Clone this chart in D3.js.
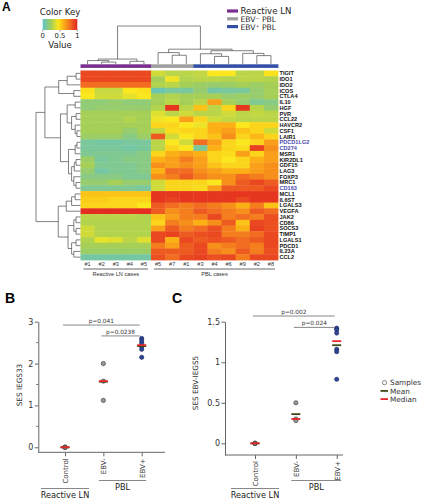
<!DOCTYPE html>
<html><head><meta charset="utf-8">
<script src="https://cdn.jsdelivr.net/npm/d3@7"></script>
<style>body{margin:0;background:#fff}svg{display:block}</style>
</head><body>
<script>
// ---------------- DATA ----------------
const genes = ["TIGIT","IDO1","IDO2","ICOS","CTLA4","IL10","HGF","PVR","CCL22","HAVCR2","CSF1","LAIR1","PDCD1LG2","CD274","MSR1","KIR2DL1","GDF15","LAG3","FOXP3","MRC1","CD163","MCL1","IL6ST","LGALS3","VEGFA","JAK2","CD86","SOCS3","TIMP1","LGALS1","PDCD1","IL23A","CCL2"];
const blueGenes = ["PDCD1LG2","CD274","CD163"];
const sampleLabels = ["#1","#2","#3","#4","#5","#5","#7","#1","#3","#4","#6","#9","#2","#8"];
const sampleGroups = ["Reactive LN","Reactive LN","Reactive LN","Reactive LN","Reactive LN","EBV⁻ PBL","EBV⁻ PBL","EBV⁻ PBL","EBV⁺ PBL","EBV⁺ PBL","EBV⁺ PBL","EBV⁺ PBL","EBV⁺ PBL","EBV⁺ PBL"];
const groupNames = ["Reactive LN","EBV⁻ PBL","EBV⁺ PBL"];
const groupColors = ["#7b2f8e","#9e9e9e","#3450a6"];
const caseGroups = [{label:"Reactive LN cases", first:0, last:4},{label:"PBL cases", first:5, last:13}];
const heatValues = [
 [0.9,0.9,0.9,0.9,0.9, 0.35,0.3,0.3,0.32,0.45,0.45,0.3,0.3,0.47],
 [0.9,0.9,0.9,0.9,0.9, 0.25,0.42,0.28,0.3,0.3,0.28,0.3,0.3,0.28],
 [0.8,0.8,0.8,0.8,0.8, 0.28,0.3,0.25,0.22,0.2,0.22,0.25,0.22,0.25],
 [0.47,0.33,0.33,0.45,0.47, 0.05,0.1,0.1,0.2,0.08,0.1,0.1,0.2,0.25],
 [0.45,0.35,0.35,0.4,0.45, 0.25,0.28,0.25,0.25,0.25,0.2,0.22,0.2,0.25],
 [0.18,0.18,0.2,0.18,0.18, 0.25,0.3,0.25,0.3,0.65,0.25,0.2,0.12,0.15],
 [0.18,0.2,0.2,0.2,0.2, 0.28,0.95,0.3,0.55,0.3,0.5,0.95,0.3,0.2],
 [0.25,0.25,0.25,0.25,0.25, 0.38,0.3,0.35,0.3,0.3,0.35,0.3,0.32,0.3],
 [0.25,0.25,0.25,0.28,0.25, 0.42,0.45,0.65,0.5,0.35,0.32,0.3,0.3,0.3],
 [0.25,0.25,0.25,0.25,0.25, 0.5,0.5,0.45,0.42,0.6,0.6,0.45,0.5,0.5],
 [0.25,0.25,0.25,0.2,0.25, 0.32,0.48,0.5,0.5,0.6,0.65,0.55,0.5,0.35],
 [0.22,0.22,0.22,0.15,0.22, 0.85,0.35,0.45,0.5,0.55,0.7,0.5,0.58,0.5],
 [0.1,0.08,0.08,0.1,0.1, 0.3,0.45,0.35,0.8,0.65,0.5,0.45,0.5,0.65],
 [0.1,0.1,0.1,0.08,0.1, 0.3,0.5,0.45,0.1,0.6,0.5,0.48,0.92,0.7],
 [0.12,0.12,0.12,0.12,0.15, 0.5,0.6,0.65,0.6,0.5,0.48,0.65,0.5,0.65],
 [0.22,0.1,0.12,0.15,0.15, 0.6,0.65,0.75,0.65,0.5,0.45,0.5,0.6,0.65],
 [0.25,0.12,0.12,0.12,0.15, 0.7,0.65,0.7,0.65,0.55,0.5,0.5,0.65,0.7],
 [0.2,0.08,0.12,0.12,0.15, 0.6,0.8,0.8,0.7,0.65,0.6,0.6,0.65,0.7],
 [0.15,0.15,0.15,0.12,0.12, 0.7,0.75,0.85,0.75,0.7,0.7,0.8,0.75,0.7],
 [0.2,0.2,0.25,0.2,0.2, 0.35,0.5,0.5,0.5,0.45,0.7,0.85,0.9,0.85],
 [0.12,0.12,0.12,0.12,0.1, 0.35,0.5,0.5,0.48,0.65,0.85,0.85,0.85,0.9],
 [0.55,0.55,0.55,0.55,0.55, 0.95,0.95,0.95,0.95,0.95,0.95,0.95,0.95,0.95],
 [0.52,0.52,0.5,0.5,0.5, 0.95,0.92,0.95,0.95,0.95,0.95,0.9,0.95,0.95],
 [0.5,0.5,0.5,0.5,0.45, 0.85,0.8,0.75,0.8,0.75,0.7,0.6,0.75,0.55],
 [0.97,0.97,0.97,0.97,0.97, 0.85,0.7,0.75,0.85,0.8,0.75,0.7,0.85,0.8],
 [0.3,0.3,0.3,0.3,0.28, 0.55,0.65,0.75,0.75,0.9,0.75,0.8,0.75,0.88],
 [0.28,0.28,0.28,0.28,0.28, 0.5,0.75,0.7,0.6,0.7,0.85,0.55,0.9,0.88],
 [0.35,0.28,0.28,0.28,0.28, 0.65,0.85,0.75,0.8,0.88,0.75,0.6,0.92,0.88],
 [0.35,0.28,0.28,0.28,0.28, 0.9,0.92,0.85,0.88,0.9,0.75,0.75,0.8,0.9],
 [0.28,0.4,0.38,0.3,0.38, 0.9,0.6,0.9,0.85,0.88,0.85,0.8,0.85,0.9],
 [0.25,0.25,0.25,0.25,0.25, 0.75,0.65,0.85,0.9,0.7,0.75,0.8,0.75,0.9],
 [0.22,0.22,0.22,0.22,0.22, 0.85,0.85,0.85,0.9,0.75,0.7,0.85,0.75,0.88],
 [0.08,0.08,0.08,0.08,0.08, 0.88,0.8,0.9,0.92,0.88,0.9,0.75,0.9,0.9]
];
const colorStops = [0,0.25,0.45,0.6,0.8,1];
const colorRamp = ["#5ec3c8","#a5cf57","#fbe71d","#fbb016","#f26d21","#e2231f"];
const colorKeyTicks = [0,0.5,1];
// dendrograms: {h: merge height, c: children}, leaves = index
const colTree = {h:1,c:[
  {h:0.13,c:[{h:0.09,c:[0,{h:0.05,c:[1,2]}]},{h:0.07,c:[3,4]}]},
  {h:0.39,c:[
    {h:0.3,c:[5,{h:0.23,c:[6,7]}]},
    {h:0.35,c:[{h:0.27,c:[8,{h:0.2,c:[9,10]}]},{h:0.28,c:[11,{h:0.22,c:[12,13]}]}]}
  ]}
]};
const rowTree = {h:1,c:[
  {h:0.8,c:[
    {h:0.49,c:[{h:0.3,c:[{h:0.1,c:[0,1]},2]},{h:0.15,c:[3,4]}]},
    {h:0.45,c:[
      {h:0.3,c:[{h:0.12,c:[5,6]},{h:0.2,c:[{h:0.1,c:[7,8]},{h:0.12,c:[9,{h:0.08,c:[10,11]}]}]}]},
      {h:0.27,c:[{h:0.12,c:[{h:0.08,c:[12,13]},14]},{h:0.2,c:[{h:0.14,c:[{h:0.1,c:[15,16]},17]},{h:0.15,c:[18,{h:0.1,c:[19,20]}]}]}]}
    ]}
  ]},
  {h:0.5,c:[
    {h:0.32,c:[{h:0.2,c:[{h:0.12,c:[21,22]},23]},24]},
    {h:0.28,c:[{h:0.15,c:[{h:0.1,c:[25,26]},{h:0.1,c:[27,28]}]},{h:0.2,c:[{h:0.1,c:[29,30]},{h:0.15,c:[31,32]}]}]}
  ]}
]};

const dotCategories = ["Control","EBV-","EBV+"];
const sesB = {"Control":[0,0,0,0,0], "EBV-":[2.0,1.58,1.12], "EBV+":[2.60,2.54,2.48,2.40,2.34,2.15]};
const sesC = {"Control":[0,0,0,0,0], "EBV-":[0.50,0.30,0.28], "EBV+":[1.42,1.40,1.36,1.16,1.13,0.79]};
const sigB = [{a:"Control",b:"EBV+",v:2.92,t:"p=0.041"},{a:"EBV-",b:"EBV+",v:2.66,t:"p=0.0238"}];
const sigC = [{a:"Control",b:"EBV+",v:1.57,t:"p=0.002"},{a:"EBV-",b:"EBV+",v:1.43,t:"p=0.024"}];
const yTicksB = [0,1,2,3], yMinorB = [0.5,1.5,2.5];
const yTicksC = [0,0.5,1,1.5];
const dotGroups = [{label:"Reactive LN", cats:["Control"]},{label:"PBL", cats:["EBV-","EBV+"]}];
const legendC = ["Samples","Mean","Median"];

// ---------------- DRAW ----------------
const W=423,H=500;
const svg=d3.select("body").append("svg").attr("width",W).attr("height",H);
svg.append("rect").attr("width",W).attr("height",H).attr("fill","#fff");
const SANS="'DejaVu Sans', Verdana, sans-serif", ARIAL="'Liberation Sans', Arial, sans-serif";
const color=d3.scaleLinear().domain(colorStops).range(colorRamp).clamp(true);

// panel letters
[["A",2,11],["B",5,303],["C",172,303]].forEach(([t,x,y])=>svg.append("text").attr("x",x).attr("y",y)
  .attr("font-family",ARIAL).attr("font-weight","bold").attr("font-size",t==="A"?12:14).text(t));

// heatmap
const xH=d3.scaleBand().domain(d3.range(sampleLabels.length)).range([80.5,278]);
const yH=d3.scaleBand().domain(d3.range(genes.length)).range([70.5,260]);
const gH=svg.append("g");
heatValues.forEach((row,i)=>row.forEach((v,j)=>{
  gH.append("rect").attr("x",xH(j)).attr("y",yH(i)).attr("width",xH.bandwidth()+0.4).attr("height",yH.bandwidth()+0.4).attr("fill",color(v));
}));
// column side colors
const grpColor=d3.scaleOrdinal().domain(groupNames).range(groupColors);
sampleGroups.forEach((g,j)=>svg.append("rect").attr("x",xH(j)).attr("y",64.3).attr("width",xH.bandwidth()+0.4).attr("height",3.6).attr("fill",grpColor(g)));
// gene labels
genes.forEach((g,i)=>svg.append("text").attr("x",279.5).attr("y",yH(i)+yH.bandwidth()/2+2)
  .attr("font-family",ARIAL).attr("font-weight","bold").attr("font-size",5.6)
  .attr("fill",blueGenes.includes(g)?"#4a4aae":"#111").text(g));
// sample labels
sampleLabels.forEach((s,j)=>svg.append("text").attr("x",xH(j)+xH.bandwidth()/2).attr("y",266.3)
  .attr("text-anchor","middle").attr("font-family",ARIAL).attr("font-size",5.6).attr("fill","#333").text(s));
caseGroups.forEach(cg=>{
  const x0=xH(cg.first)+3, x1=xH(cg.last)+xH.bandwidth()-3;
  svg.append("line").attr("x1",x0).attr("x2",x1).attr("y1",269).attr("y2",269).attr("stroke","#9a9a9a").attr("stroke-width",1.5);
  svg.append("text").attr("x",(x0+x1)/2).attr("y",275.5).attr("text-anchor","middle").attr("font-family",ARIAL).attr("font-size",5.6).attr("fill","#333").text(cg.label);
});

// dendrograms
function drawDendro(tree, posOf, hScale, vertical){
  const g=svg.append("g").attr("stroke","#4a4a4a").attr("stroke-width",0.7).attr("fill","none");
  function rec(n){
    if(typeof n==="number") return {p:posOf(n),h:0};
    const kids=n.c.map(rec);
    const hp=hScale(n.h);
    kids.forEach(k=>{
      if(vertical) g.append("line").attr("x1",k.p).attr("x2",k.p).attr("y1",hScale(k.h)).attr("y2",hp);
      else g.append("line").attr("y1",k.p).attr("y2",k.p).attr("x1",hScale(k.h)).attr("x2",hp);
    });
    const p0=kids[0].p,p1=kids[kids.length-1].p;
    if(vertical) g.append("line").attr("x1",p0).attr("x2",p1).attr("y1",hp).attr("y2",hp);
    else g.append("line").attr("y1",p0).attr("y2",p1).attr("x1",hp).attr("x2",hp);
    return {p:(p0+p1)/2,h:n.h};
  }
  rec(tree);
}
drawDendro(colTree,j=>xH(j)+xH.bandwidth()/2,d3.scaleLinear().domain([0,1]).range([64,26]),true);
drawDendro(rowTree,i=>yH(i)+yH.bandwidth()/2,d3.scaleLinear().domain([0,1]).range([80.5,36]),false);

// legend top
groupNames.forEach((n,i)=>{
  const y=11+i*7.8;
  svg.append("rect").attr("x",227).attr("y",y-1.6).attr("width",11).attr("height",3.2).attr("fill",groupColors[i]);
  svg.append("text").attr("x",240.5).attr("y",y+3).attr("font-family",SANS).attr("font-size",i===0?8.6:7.6).attr("fill","#222").text(n);
});

// color key
const ck=d3.scaleLinear().domain([0,1]).range([42.7,77.3]);
const grad=svg.append("defs").append("linearGradient").attr("id","ckg");
d3.range(0,1.0001,0.05).forEach(t=>grad.append("stop").attr("offset",t).attr("stop-color",color(t)));
svg.append("rect").attr("x",ck(0)).attr("y",19).attr("width",ck(1)-ck(0)).attr("height",11).attr("fill","url(#ckg)");
svg.append("text").attr("x",60).attr("y",15).attr("text-anchor","middle").attr("font-family",SANS).attr("font-size",8.6).attr("fill","#222").text("Color Key");
svg.append("text").attr("x",60).attr("y",47.5).attr("text-anchor","middle").attr("font-family",SANS).attr("font-size",8.6).attr("fill","#222").text("Value");
colorKeyTicks.forEach(t=>{
  svg.append("line").attr("x1",ck(t)).attr("x2",ck(t)).attr("y1",30).attr("y2",31.5).attr("stroke","#444").attr("stroke-width",0.6);
  svg.append("text").attr("x",ck(t)).attr("y",38).attr("text-anchor","middle").attr("font-family",SANS).attr("font-size",6.8).attr("fill","#222").text(t);
});

// ---------- dot plots ----------
function dotPanel(cfg){
  const g=svg.append("g").attr("font-family",SANS);
  const x=d3.scalePoint().domain(dotCategories).range(cfg.xr);
  const y=d3.scaleLinear().domain(cfg.yd).range(cfg.yr);
  const yBase=cfg.yr[0];
  // y axis
  const ya=g.append("g").attr("transform",`translate(${cfg.axX},0)`)
    .call(d3.axisLeft(y).tickValues(cfg.ticks).tickFormat(d3.format("~g")).tickSize(3.5).tickSizeOuter(0));
  ya.select(".domain").attr("stroke","#666");
  ya.selectAll(".tick line").attr("stroke","#666");
  ya.selectAll(".tick text").attr("font-family",SANS).attr("font-size",8).attr("fill","#333").attr("x",-5);
  if(cfg.minor){
    g.selectAll(".mn").data(cfg.minor).enter().append("line").attr("x1",cfg.axX-2).attr("x2",cfg.axX)
      .attr("y1",d=>y(d)).attr("y2",d=>y(d)).attr("stroke","#666");
  }
  // x axis
  const xa=g.append("g").attr("transform",`translate(0,${yBase})`)
    .call(d3.axisBottom(x).tickSize(4).tickSizeOuter(0).tickFormat(""));
  xa.select(".domain").attr("d",`M${cfg.axX},0H${cfg.axEnd}`).attr("stroke","#666");
  xa.selectAll(".tick line").attr("stroke","#666");
  dotCategories.forEach(c=>g.append("text").attr("transform",`translate(${x(c)+2.8},${yBase+6}) rotate(-90)`)
    .attr("text-anchor","end").attr("font-size",7).attr("fill","#333").text(c));
  // group lines
  dotGroups.forEach((gr,k)=>{
    const xs=gr.cats.map(x);
    const pad=gr.cats.length===1?24:4.5;
    const ly=k===0?488.5:480.5;
    g.append("line").attr("x1",d3.min(xs)-pad).attr("x2",d3.max(xs)+pad).attr("y1",ly).attr("y2",ly).attr("stroke","#555").attr("stroke-width",0.7);
    g.append("text").attr("x",(d3.min(xs)+d3.max(xs))/2).attr("y",ly+9).attr("text-anchor","middle").attr("font-size",8.2).attr("fill","#222").text(gr.label);
  });
  // y label
  g.append("text").attr("transform",`translate(${cfg.labX},${cfg.labY}) rotate(-90)`).attr("text-anchor","middle")
    .attr("font-size",7.3).attr("fill","#333").text(cfg.ylab);
  // points
  dotCategories.forEach(c=>{
    const vals=cfg.data[c];
    const isPos=c==="EBV+";
    g.selectAll(null).data(vals).enter().append("circle").attr("cx",x(c)).attr("cy",d=>y(d)).attr("r",2.1)
      .attr("fill",isPos?"#2f4796":"#9a9a9a").attr("stroke",isPos?"#1c2a66":"#3d3d3d").attr("stroke-width",0.7);
    const mean=d3.mean(vals), med=d3.median(vals);
    g.append("line").attr("x1",x(c)-4.5).attr("x2",x(c)+4.5).attr("y1",y(mean)).attr("y2",y(mean)).attr("stroke","#3b4a16").attr("stroke-width",1.8);
    g.append("line").attr("x1",x(c)-4.5).attr("x2",x(c)+4.5).attr("y1",y(med)).attr("y2",y(med)).attr("stroke","#e8262a").attr("stroke-width",1.8);
  });
  // significance
  cfg.sig.forEach(s=>{
    const x0=x(s.a)-2,x1=x(s.b)-2,yy=y(s.v);
    g.append("line").attr("x1",x0).attr("x2",x1).attr("y1",yy).attr("y2",yy).attr("stroke","#555").attr("stroke-width",0.7);
    g.append("text").attr("x",(x0+x1)/2).attr("y",yy-2).attr("text-anchor","middle").attr("font-size",5.8).attr("fill","#333").text(s.t);
  });
  return {x,y};
}
dotPanel({xr:[65,141.7],yd:[-0.12,3],yr:[452.3,321.7],axX:38.3,axEnd:165,ticks:yTicksB,minor:yMinorB,
  data:sesB,sig:sigB,ylab:"SES IEGS33",labX:21.5,labY:385});
dotPanel({xr:[255,336.7],yd:[-0.144,1.5],yr:[455,321.7],axX:225,axEnd:343,ticks:yTicksC,minor:null,
  data:sesC,sig:sigC,ylab:"SES EBV-IEGS5",labX:198,labY:383});

// legend C
const lg=svg.append("g").attr("font-family",SANS);
legendC.forEach((n,i)=>{
  const yy=382.7+i*8.2;
  if(i===0) lg.append("circle").attr("cx",384.5).attr("cy",yy).attr("r",2.1).attr("fill","#fff").attr("stroke","#666").attr("stroke-width",0.8);
  else lg.append("line").attr("x1",380.5).attr("x2",388).attr("y1",yy).attr("y2",yy).attr("stroke",i===1?"#3b4a16":"#e8262a").attr("stroke-width",1.8);
  lg.append("text").attr("x",390).attr("y",yy+2.6).attr("font-size",7.3).attr("fill","#333").text(n);
});
</script>
</body></html>
